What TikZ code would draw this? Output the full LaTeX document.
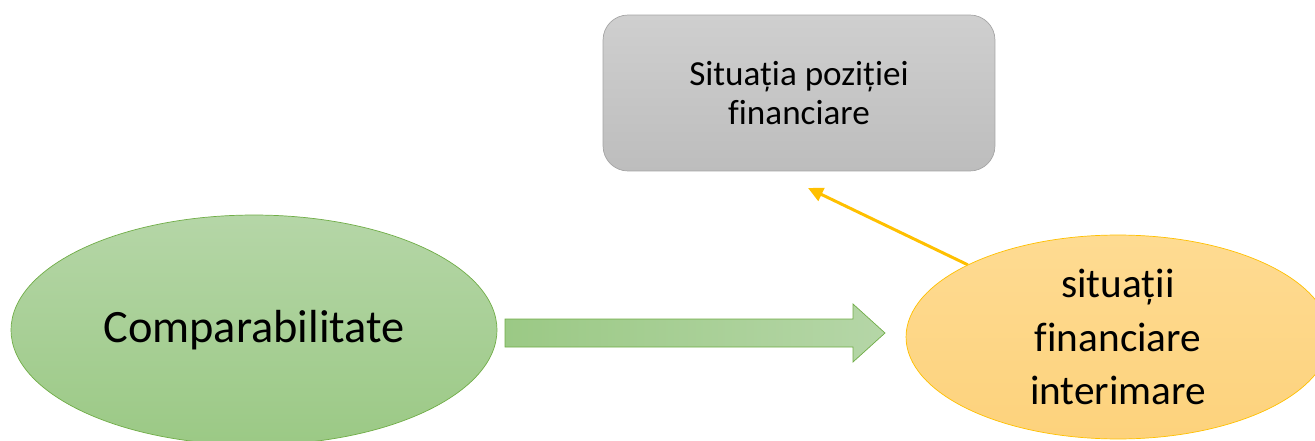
\documentclass[tikz,border=0pt]{standalone}
\usepackage{fontspec}
\setmainfont{Carlito}[Ligatures=NoCommon]
\usepackage{xcolor}
\usetikzlibrary{arrows.meta, positioning, shapes.geometric, calc}

\definecolor{grayfill}{HTML}{CFCFCF}
\definecolor{graydark}{HTML}{BDBDBD}
\definecolor{grayline}{HTML}{A5A5A5}
\definecolor{greentop}{HTML}{B5D6A7}
\definecolor{greenbot}{HTML}{9BC985}
\definecolor{greenline}{HTML}{70AD47}
\definecolor{orangetop}{HTML}{FEDB92}
\definecolor{orangebot}{HTML}{FDD27C}
\definecolor{goldline}{HTML}{FFC000}

\begin{document}
\begin{tikzpicture}[
    x=0.02cm, y=0.02cm,
    statement/.style={draw=grayline, top color=grayfill, bottom color=graydark, rectangle, rounded corners=0.5cm, minimum width=7.84cm, minimum height=3.12cm, align=center, font=\fontsize{20}{22}\selectfont},
    concept/.style={draw=greenline, top color=greentop, bottom color=greenbot, ellipse, inner sep=0pt, minimum width=9.72cm, minimum height=4.6cm, font=\fontsize{26.4}{30}\selectfont},
    report/.style={draw=goldline, top color=orangetop, bottom color=orangebot, ellipse, inner sep=0pt, minimum width=8.48cm, minimum height=4.08cm, align=center, font=\fontsize{23.5}{30.3}\selectfont},
    blockarrow/.style={draw=greenline, left color=greenbot, right color=greentop},
    line/.style={draw=goldline, line width=1.7pt, -{Triangle[length=0.3cm, width=0.28cm]}}
]
    \useasboundingbox (0,0) rectangle (1315,440);

    \node[statement] (pozitie) at (799,347) {Situația poziției\\financiare};
    \node[concept] (comparab) at (254,110) {Comparabilitate};
    \node[report] (interim) at (1118,103) {situații\\financiare\\interimare};

    % Block arrow between ellipses
    \path[blockarrow] (505,121) -- (853,121) -- (853,136) -- (885,107)
        -- (853,78) -- (853,93) -- (505,93) -- cycle;

    % Link to the statement
    \coordinate (pozitietip) at (808,252);
    \draw[line] (interim) -- (pozitietip);
\end{tikzpicture}
\end{document}
